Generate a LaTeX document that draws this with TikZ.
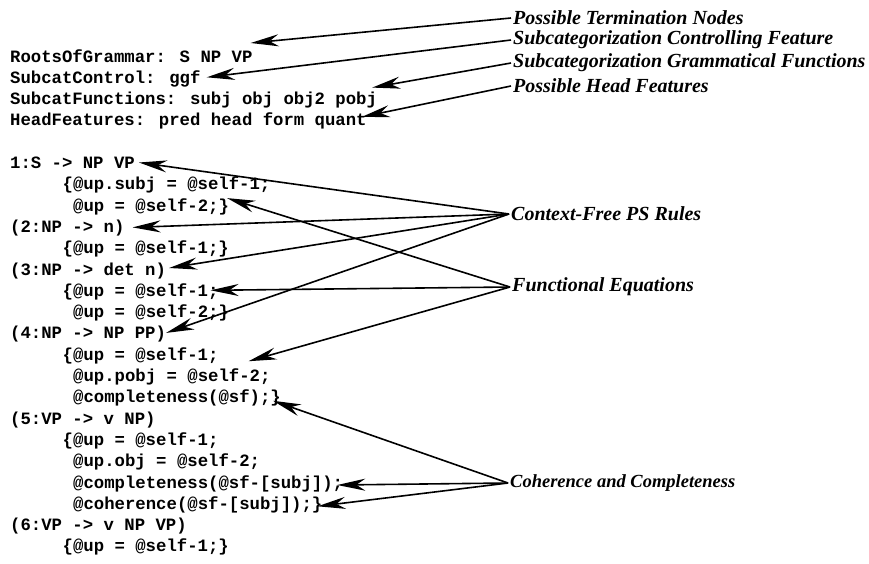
\documentclass[tikz,border=0pt]{standalone}
\usepackage{fontspec}
\usepackage{tikz}
\usetikzlibrary{arrows.meta}
\newfontfamily\codefont{Liberation Mono}
\newfontfamily\notefont{Liberation Serif}

\begin{document}
\begin{tikzpicture}
  [x=1pt,y=-1pt,
   code/.style={anchor=west,inner sep=0pt,text height=13pt,text depth=3pt,
     font=\codefont\bfseries\fontsize{17.3}{20}\selectfont},
   note/.style={anchor=west,inner sep=2pt,
     font=\notefont\bfseries\itshape\fontsize{20}{22}\selectfont},
   ptr/.style={-{Stealth[length=28pt,width=12pt,inset=9pt]},line width=1.6pt}]
  \useasboundingbox (0,0) rectangle (869,563);

  % grammar header
  \node[code] (h0) at (10,57)    {RootsOfGrammar: S NP VP};
  \node[code] (h1) at (10,78.3)  {SubcatControl: ggf};
  \node[code] (h2) at (10,99.6)  {SubcatFunctions: subj obj obj2 pobj};
  \node[code] (h3) at (10,120.9) {HeadFeatures: pred head form quant};

  % rules
  \node[code] (r0)  at (10,163.5)   {1:S -> NP VP};
  \node[code] (r1)  at (62.5,184.8) {\{@up.subj = @self-1;};
  \node[code] (r2)  at (73,206.1)   {@up = @self-2;\}};
  \node[code] (r3)  at (10,227.4)   {(2:NP -> n)};
  \node[code] (r4)  at (62.5,248.7) {\{@up = @self-1;\}};
  \node[code] (r5)  at (10,270)     {(3:NP -> det n)};
  \node[code] (r6)  at (62.5,291.3) {\{@up = @self-1;};
  \node[code] (r7)  at (73,312.6)   {@up = @self-2;\}};
  \node[code] (r8)  at (10,333.9)   {(4:NP -> NP PP)};
  \node[code] (r9)  at (62.5,355.2) {\{@up = @self-1;};
  \node[code] (r10) at (73,376.5)   {@up.pobj = @self-2;};
  \node[code] (r11) at (73,397.8)   {@completeness(@sf);\}};
  \node[code] (r12) at (10,419.1)   {(5:VP -> v NP)};
  \node[code] (r13) at (62.5,440.4) {\{@up = @self-1;};
  \node[code] (r14) at (73,461.7)   {@up.obj = @self-2;};
  \node[code] (r15) at (73,483)     {@completeness(@sf-[subj]);};
  \node[code] (r16) at (73,504.3)   {@coherence(@sf-[subj]);\}};
  \node[code] (r17) at (10,525.6)   {(6:VP -> v NP VP)};
  \node[code] (r18) at (62.5,546.9) {\{@up = @self-1;\}};

  % notes
  \node[note] (tn) at (511,18)  {Possible Termination Nodes};
  \node[note] (sc) at (511,40)  {Subcategorization Controlling Feature};
  \node[note] (gf) at (511,63)  {Subcategorization Grammatical Functions};
  \node[note] (hf) at (511,86)  {Possible Head Features};
  \node[note] (cf) at (509,214) {Context-Free PS Rules};
  \node[note] (fe) at (510,287) {Functional Equations};
  \node[note,font=\notefont\bfseries\itshape\fontsize{18.5}{22}\selectfont]
    (cc) at (508,483) {Coherence and Completeness};

  \foreach \from/\to/\dx/\dy in {tn/h0/-2/-14,sc/h1/6/-1,gf/h2/-5/-12,hf/h3/-5/-4}
    \draw[ptr] (\from.west) -- ([shift={(\dx,\dy)}]\to.east);

  \foreach \to/\dx/\dy in {r0/4/-1,r3/8/0,r5/3/-2,r8/0/-1}
    \draw[ptr] (cf.west) -- ([shift={(\dx,\dy)}]\to.east);

  \foreach \to/\dx/\dy in {r2/-2/-8,r6/-8/-1,r9/30/6}
    \draw[ptr] (fe.west) -- ([shift={(\dx,\dy)}]\to.east);

  \foreach \to/\dx/\dy in {r11/-8/3,r15/-6/2,r16/-5/2}
    \draw[ptr] (cc.west) -- ([shift={(\dx,\dy)}]\to.east);

\end{tikzpicture}
\end{document}
